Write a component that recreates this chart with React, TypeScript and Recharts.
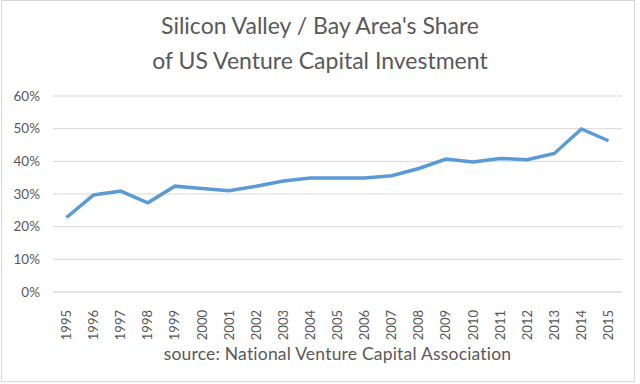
import { CartesianGrid, Line, LineChart, XAxis, YAxis } from "recharts";

const years = [
  "1995", "1996", "1997", "1998", "1999", "2000", "2001", "2002", "2003", "2004", "2005",
  "2006", "2007", "2008", "2009", "2010", "2011", "2012", "2013", "2014", "2015",
];
const share = [
  22.8, 29.7, 30.9, 27.3, 32.4, 31.7, 31.0, 32.4, 34.0, 34.9, 34.9,
  34.9, 35.6, 37.8, 40.7, 39.8, 40.9, 40.5, 42.4, 49.9, 46.3,
];
const yTicks = [0, 10, 20, 30, 40, 50, 60];
const titleLines = ["Silicon Valley / Bay Area's Share", "of US Venture Capital Investment"];
const sourceNote = "source: National Venture Capital Association";

const data = years.map((year, i) => ({ year, share: share[i] }));

const font = "Lato, 'Open Sans', sans-serif";
const textColor = "#595959";

function YearTick({ x, y, payload }: any) {
  return (
    <text
      x={x}
      y={y}
      transform={`rotate(-90, ${x}, ${y})`}
      dx={-10}
      dy={4.5}
      textAnchor="end"
      fill={textColor}
      fontSize={13}
      fontFamily={font}
    >
      {payload.value}
    </text>
  );
}

export default function App() {
  return (
    <div
      style={{
        position: "absolute",
        left: 0,
        top: 0,
        width: 640,
        height: 384,
        background: "#fff",
        fontFamily: font,
      }}
    >
      <div
        style={{
          position: "absolute",
          left: 1,
          top: 0,
          width: 632,
          height: 380,
          border: "1px solid #d9d9d9",
        }}
      />
      <div
        style={{
          position: "absolute",
          left: 0,
          top: 8,
          width: 640,
          textAlign: "center",
          color: textColor,
          fontSize: 23,
          lineHeight: "35px",
        }}
      >
        {titleLines.map((line) => (
          <div key={line}>{line}</div>
        ))}
      </div>
      <LineChart
        width={640}
        height={384}
        data={data}
        margin={{ top: 96, right: 18, bottom: 0, left: 0 }}
        style={{ position: "absolute", left: 0, top: 0 }}
      >
        <CartesianGrid vertical={false} stroke="#d9d9d9" />
        <XAxis
          dataKey="year"
          height={92}
          padding={{ left: 13.5, right: 13.5 }}
          tickLine={false}
          axisLine={{ stroke: "#d9d9d9" }}
          tick={<YearTick />}
          interval={0}
          label={{
            value: sourceNote,
            position: "insideBottom",
            offset: 24,
            fill: textColor,
            fontSize: 17.5,
            letterSpacing: 0.2,
            fontFamily: font,
          }}
        />
        <YAxis
          width={53}
          domain={[0, 60]}
          ticks={yTicks}
          tickFormatter={(v) => `${v}%`}
          tickLine={false}
          axisLine={false}
          tickSize={0}
          tickMargin={13}
          tick={{ fill: textColor, fontSize: 13.5, fontFamily: font }}
        />
        <Line
          type="linear"
          dataKey="share"
          stroke="#5b9bd5"
          strokeWidth={3.5}
          dot={false}
          isAnimationActive={false}
        />
      </LineChart>
    </div>
  );
}
